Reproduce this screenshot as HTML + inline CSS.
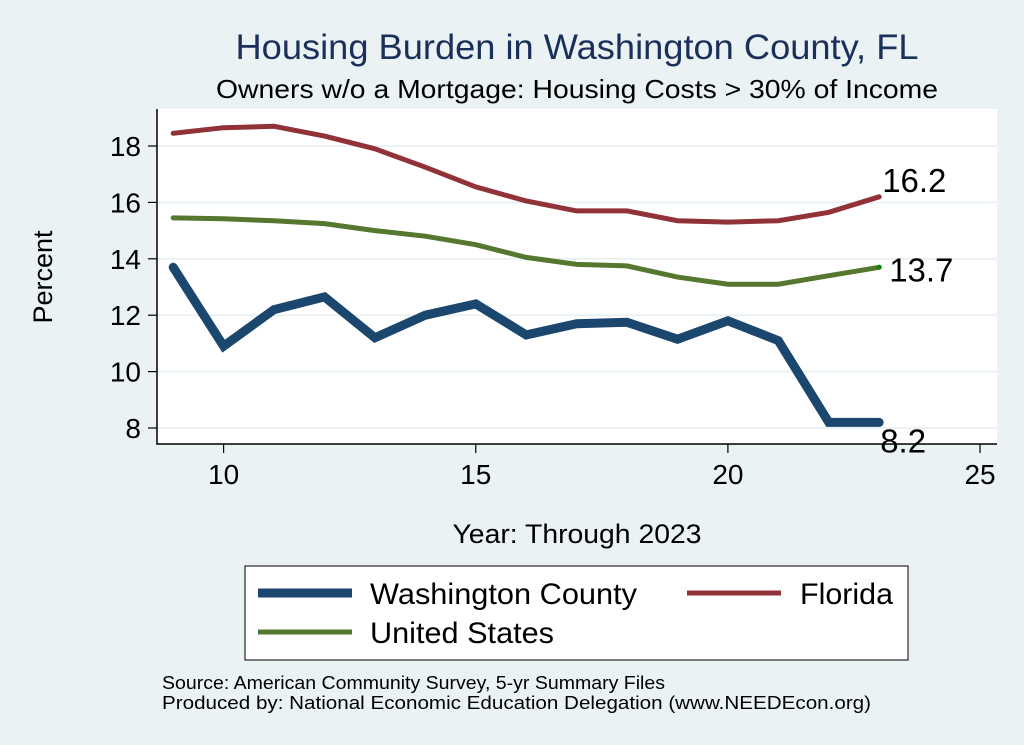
<!DOCTYPE html>
<html><head><meta charset="utf-8"><style>
body{margin:0;background:#eaf2f3;}
svg{display:block;font-family:"Liberation Sans",Arial,sans-serif;}
</style></head><body>
<svg width="1024" height="745" viewBox="0 0 1024 745">
<rect x="0" y="0" width="1024" height="745" fill="#eaf2f3"/>
<text x="577" y="59" font-size="35" fill="#1a2f5a" text-anchor="middle" textLength="683" lengthAdjust="spacingAndGlyphs">Housing Burden in Washington County, FL</text>
<text x="577" y="98" font-size="26" fill="#000" text-anchor="middle" textLength="722" lengthAdjust="spacingAndGlyphs">Owners w/o a Mortgage: Housing Costs &gt; 30% of Income</text>
<rect x="157" y="109" width="840" height="335" fill="#fff"/>
<g id="grid"></g><g id="axes"></g><g id="series"></g>
<text x="52" y="277" font-size="27" text-anchor="middle" transform="rotate(-90 52 277)">Percent</text>
<text x="577" y="543" font-size="27" text-anchor="middle" textLength="249" lengthAdjust="spacingAndGlyphs">Year: Through 2023</text>
<g>
<rect x="245" y="566" width="663" height="94" fill="#fff" stroke="#000" stroke-width="1"/>
<line x1="258" y1="593" x2="352" y2="593" stroke="#1b466e" stroke-width="9"/>
<text x="370" y="604" font-size="30" textLength="267" lengthAdjust="spacingAndGlyphs">Washington County</text>
<line x1="687" y1="593" x2="781" y2="593" stroke="#913239" stroke-width="5"/>
<text x="800" y="604" font-size="30" textLength="93" lengthAdjust="spacingAndGlyphs">Florida</text>
<line x1="258" y1="632" x2="352" y2="632" stroke="#55772e" stroke-width="5"/>
<text x="370" y="643" font-size="30" textLength="184" lengthAdjust="spacingAndGlyphs">United States</text>
</g>
<text x="162" y="689" font-size="18" textLength="503" lengthAdjust="spacingAndGlyphs">Source: American Community Survey, 5-yr Summary Files</text>
<text x="162" y="709" font-size="18" textLength="709" lengthAdjust="spacingAndGlyphs">Produced by: National Economic Education Delegation (www.NEEDEcon.org)</text>
</svg>
<script>
const years=[9,10,11,12,13,14,15,16,17,18,19,20,21,22,23];
const washington=[13.7,10.9,12.2,12.65,11.2,12.0,12.4,11.3,11.7,11.75,11.15,11.8,11.1,8.2,8.2];
const florida=[18.45,18.65,18.7,18.35,17.9,17.25,16.55,16.05,15.7,15.7,15.35,15.3,15.35,15.65,16.2];
const unitedStates=[15.45,15.42,15.35,15.25,15.0,14.8,14.5,14.05,13.8,13.75,13.35,13.1,13.1,13.4,13.7];
const yTicks=[8,10,12,14,16,18];
const xTicks=[10,15,20,25];
const NS="http://www.w3.org/2000/svg";
function xs(v){return 223.6+(v-10)*50.43;}
function ys(v){return 428-(v-8)*28.2;}
function mk(tag,attrs,parent){const e=document.createElementNS(NS,tag);for(const k in attrs)e.setAttribute(k,attrs[k]);document.getElementById(parent).appendChild(e);return e;}
yTicks.forEach(t=>{
 const g=mk('line',{x1:157,x2:997,y1:ys(t),y2:ys(t),stroke:'#eaf2f3','stroke-width':2},'grid');
 
 
 const tk=mk('line',{x1:148,x2:157,y1:ys(t),y2:ys(t),stroke:'#000','stroke-width':1.2},'axes');
 
 
 const tx=mk('text',{x:141,y:ys(t)+10,'font-size':28,'text-anchor':'end'},'axes');tx.textContent=t;
 
 
});
xTicks.forEach(t=>{
 const tk=mk('line',{x1:xs(t),x2:xs(t),y1:444,y2:453,stroke:'#000','stroke-width':1.2},'axes');
 
 
 const tx=mk('text',{x:xs(t),y:484,'font-size':28,'text-anchor':'middle'},'axes');tx.textContent=t;
 
 
});
const ax=mk('path',{d:'M157 109 V444 H997',fill:'none',stroke:'#000','stroke-width':1.5},'axes');


function line(vals,color,w,name){
 const d=vals.map((v,i)=>(i?'L':'M')+xs(years[i]).toFixed(1)+' '+ys(v).toFixed(1)).join(' ');
 const p=mk('path',{d:d,fill:'none',stroke:color,'stroke-width':w,'stroke-linejoin':'miter','stroke-linecap':'round'},'series');
 
 
}
line(florida,'#913239',5,'florida-line');
line(unitedStates,'#55772e',5,'us-line');
line(washington,'#1b466e',9,'washington-line');
const n=years.length-1;
const dot=mk('circle',{cx:xs(years[n]),cy:ys(unitedStates[n]),r:2.5,fill:'#0a8a0a'},'series');


const labs=[[florida[n],-5,'florida-end-label'],[unitedStates[n],14,'us-end-label'],[washington[n],30,'washington-end-label']];
labs.forEach(l=>{
 const t=mk('text',{x:xs(years[n])+(l[2]==='washington-end-label'?1:(l[2]==='us-end-label'?10:3)),y:ys(l[0])+l[1],'font-size':33},'series');
 t.textContent=l[0].toFixed(1);
 
 
});
</script>
</body></html>
